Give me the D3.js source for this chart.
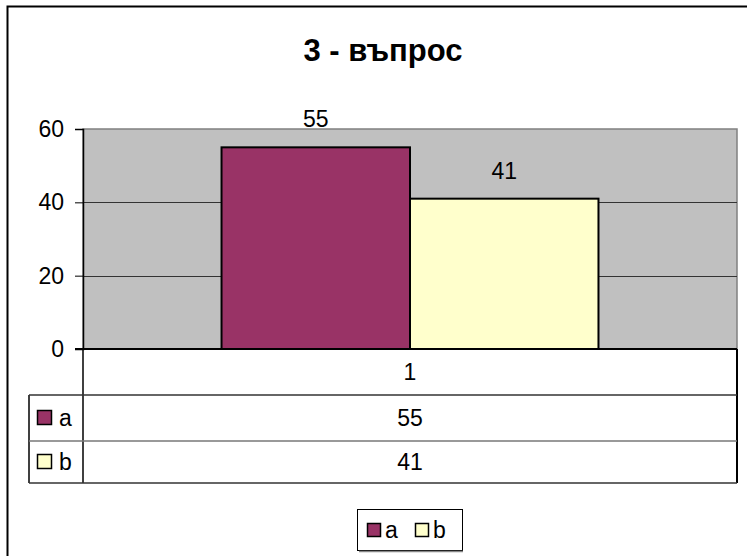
<!DOCTYPE html>
<meta charset="utf-8">
<style>
html, body {
    margin: 0;
    padding: 0;
    background: white;
}
svg {
    display: block;
    font-family: "Liberation Sans", Arial, sans-serif;
}
.tick-label, .cell, .data-label {
    font-size: 23px;
    fill: #000;
}
</style>
<body>
<script src="https://cdn.jsdelivr.net/npm/d3@7/dist/d3.min.js"></script>
<script>

var width = 747,
    height = 556;

// chart data
var title = "3 - въпрос";
var categories = ["1"];
var seriesNames = ["a", "b"];
var seriesValues = [[55], [41]];
var seriesColors = ["#993366", "#FFFFCC"];
var yTicks = [0, 20, 40, 60];

var plot = {left: 83, right: 737, top: 129, bottom: 349};
var table = {left: 29, rows: [349, 395, 441, 483]};
var gapWidth = 1.47;

var svg = d3.select("body").append("svg")
    .attr("width", width)
    .attr("height", height);

// outer chart border (runs off the bottom/right of the picture)
svg.append("rect")
    .attr("x", 7.5)
    .attr("y", 6.5)
    .attr("width", width + 20)
    .attr("height", height + 20)
    .attr("fill", "white")
    .attr("stroke", "#000")
    .attr("stroke-width", 2);

svg.append("text")
    .attr("x", 383)
    .attr("y", 61)
    .attr("text-anchor", "middle")
    .attr("font-size", "31px")
    .attr("font-weight", "bold")
    .text(title);

var y = d3.scaleLinear()
    .domain([0, 60])
    .range([plot.bottom, plot.top]);

var x = d3.scaleBand()
    .domain(categories)
    .range([plot.left, plot.right]);

var barW = x.bandwidth() / (seriesNames.length + gapWidth);
var xs = d3.scaleBand()
    .domain(seriesNames)
    .range([barW * gapWidth / 2, barW * gapWidth / 2 + barW * seriesNames.length]);

// plot area
svg.append("rect")
    .attr("x", plot.left)
    .attr("y", plot.top)
    .attr("width", plot.right - plot.left)
    .attr("height", plot.bottom - plot.top)
    .attr("fill", "#C0C0C0")
    .attr("stroke", "#808080")
    .attr("stroke-width", 1.5);

svg.append("g")
    .selectAll("line")
    .data(yTicks.filter(d => d > 0 && d < 60))
    .enter().append("line")
    .attr("x1", plot.left)
    .attr("x2", plot.right)
    .attr("y1", d => Math.round(y(d)) + 0.5)
    .attr("y2", d => Math.round(y(d)) + 0.5)
    .attr("stroke", "#333");

// y axis
var yAxis = d3.axisLeft(y)
    .tickValues(yTicks)
    .tickSize(8)
    .tickPadding(11);

var ya = svg.append("g")
    .attr("transform", "translate(" + plot.left + ",0)")
    .call(yAxis);
ya.select(".domain").attr("stroke", "#000").attr("stroke-width", 1.5);
ya.selectAll(".tick line").attr("stroke", "#000");
ya.selectAll(".tick text")
    .attr("class", "tick-label")
    .attr("font-family", null)
    .attr("font-size", null);

// bars
seriesNames.forEach(function(s, i) {
    var g = svg.append("g");
    g.selectAll("rect")
        .data(seriesValues[i])
        .enter().append("rect")
        .attr("x", (d, j) => x(categories[j]) + xs(s))
        .attr("y", d => y(d))
        .attr("width", xs.bandwidth())
        .attr("height", d => y(0) - y(d))
        .attr("fill", seriesColors[i])
        .attr("stroke", "#000")
        .attr("stroke-width", 2);
    g.selectAll("text")
        .data(seriesValues[i])
        .enter().append("text")
        .attr("class", "data-label")
        .attr("x", (d, j) => x(categories[j]) + xs(s) + xs.bandwidth() / 2)
        .attr("y", d => y(d) - 20)
        .attr("text-anchor", "middle")
        .text(d => d);
});

// zero line
svg.append("line")
    .attr("x1", plot.left - 8)
    .attr("x2", plot.right)
    .attr("y1", y(0))
    .attr("y2", y(0))
    .attr("stroke", "#000")
    .attr("stroke-width", 2);

// data table
var rows = table.rows;
var tg = svg.append("g");
tg.append("line")
    .attr("x1", plot.left).attr("x2", plot.left)
    .attr("y1", rows[0]).attr("y2", rows[3])
    .attr("stroke", "#000").attr("stroke-width", 1.5);
tg.append("line")
    .attr("x1", plot.right).attr("x2", plot.right)
    .attr("y1", rows[0]).attr("y2", rows[3])
    .attr("stroke", "#000").attr("stroke-width", 2);
tg.append("line")
    .attr("x1", table.left).attr("x2", table.left)
    .attr("y1", rows[1]).attr("y2", rows[3])
    .attr("stroke", "#000").attr("stroke-width", 1.5);
tg.append("line")
    .attr("x1", table.left).attr("x2", plot.right)
    .attr("y1", rows[1]).attr("y2", rows[1])
    .attr("stroke", "#333").attr("stroke-width", 1.5);
tg.append("line")
    .attr("x1", table.left).attr("x2", plot.right)
    .attr("y1", rows[2]).attr("y2", rows[2])
    .attr("stroke", "#777").attr("stroke-width", 1.5);
tg.append("line")
    .attr("x1", table.left).attr("x2", plot.right)
    .attr("y1", rows[3]).attr("y2", rows[3])
    .attr("stroke", "#333").attr("stroke-width", 1.5);

tg.selectAll("text.cat")
    .data(categories)
    .enter().append("text")
    .attr("class", "cell")
    .attr("x", d => x(d) + x.bandwidth() / 2)
    .attr("y", (rows[0] + rows[1]) / 2 + 8)
    .attr("text-anchor", "middle")
    .text(d => d);

seriesNames.forEach(function(s, i) {
    var mid = (rows[i + 1] + rows[i + 2]) / 2;
    tg.append("rect")
        .attr("x", 37.5)
        .attr("y", mid - 7.5)
        .attr("width", 14)
        .attr("height", 14)
        .attr("fill", seriesColors[i])
        .attr("stroke", "#000")
        .attr("stroke-width", 1.5);
    tg.append("text")
        .attr("class", "cell")
        .attr("x", 59)
        .attr("y", mid + 8)
        .text(s);
    tg.selectAll("text.v" + i)
        .data(seriesValues[i])
        .enter().append("text")
        .attr("class", "cell")
        .attr("x", (d, j) => x(categories[j]) + x.bandwidth() / 2)
        .attr("y", mid + 8)
        .attr("text-anchor", "middle")
        .text(d => d);
});

// legend
var lg = svg.append("g").attr("transform", "translate(357,509)");
lg.append("rect")
    .attr("x", 0.5).attr("y", 0.5)
    .attr("width", 105).attr("height", 41)
    .attr("fill", "white")
    .attr("stroke", "#000")
    .attr("stroke-width", 1);
lg.append("line")
    .attr("x1", 2).attr("x2", 106)
    .attr("y1", 42.5).attr("y2", 42.5)
    .attr("stroke", "#888").attr("stroke-width", 1.5);
var item = lg.selectAll("g.item")
    .data(seriesNames)
    .enter().append("g")
    .attr("transform", (d, i) => "translate(" + (10 + i * 48) + ",0)");
item.append("rect")
    .attr("x", 0.5).attr("y", 14.5)
    .attr("width", 13).attr("height", 13)
    .attr("fill", (d, i) => seriesColors[i])
    .attr("stroke", "#000")
    .attr("stroke-width", 1.5);
item.append("text")
    .attr("class", "cell")
    .attr("x", 18)
    .attr("y", 29)
    .text(d => d);

</script>
